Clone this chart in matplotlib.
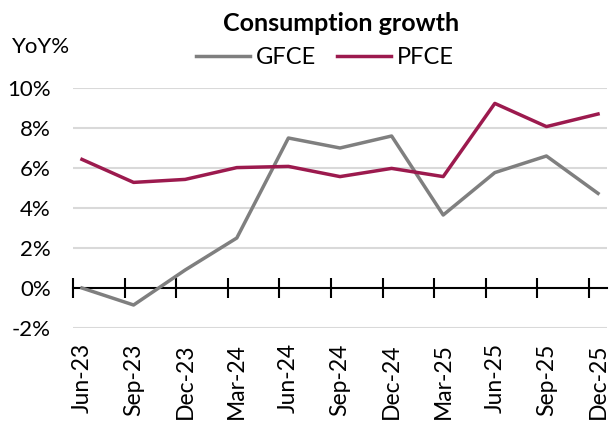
import matplotlib
matplotlib.use("Agg")
import matplotlib.pyplot as plt
from matplotlib.ticker import FixedLocator, FuncFormatter

plt.rcParams["font.family"] = ["Lato", "DejaVu Sans"]

quarters = ["Jun-23", "Sep-23", "Dec-23", "Mar-24", "Jun-24", "Sep-24",
            "Dec-24", "Mar-25", "Jun-25", "Sep-25", "Dec-25"]
gfce = [0.0, -0.85, 0.9, 2.5, 7.5, 7.0, 7.6, 3.65, 5.77, 6.6, 4.73]
pfce = [6.43, 5.28, 5.43, 6.02, 6.08, 5.57, 5.98, 5.57, 9.23, 8.07, 8.7]
yticks = [-2, 0, 2, 4, 6, 8, 10]

GREY = "#7f7f7f"
MAROON = "#9c1a4e"

fig = plt.figure(figsize=(6.09, 4.23), dpi=100)
ax = fig.add_axes([73 / 609, 95 / 423, 534 / 609, 240 / 423])

x = list(range(len(quarters)))
off = 0.174
ax.set_xlim(-off, len(quarters) - 1 + off)
ax.set_ylim(-2, 10)

for y in yticks:
    if y != 0:
        ax.axhline(y, color="#d9d9d9", lw=1.5, zorder=0)

ax.plot(x, gfce, color=GREY, lw=2.5, label="GFCE", zorder=3)
ax.plot(x, pfce, color=MAROON, lw=2.5, label="PFCE", zorder=3)

for s in ax.spines.values():
    s.set_visible(False)

ax.set_yticks(yticks)
ax.yaxis.set_major_formatter(FuncFormatter(lambda v, p: f"{v:.0f}%"))
ax.tick_params(axis="y", length=0, pad=16, labelsize=16)
ax.set_xticks(x)
ax.set_xticklabels(quarters, rotation=90, fontsize=16.5)
ax.tick_params(axis="x", length=0, pad=11)

# zero line with category-boundary tick marks
zax = ax.secondary_xaxis(2 / 12)
zax.spines["bottom"].set_color("black")
zax.spines["bottom"].set_linewidth(1.5)
zax.xaxis.set_major_locator(FixedLocator([i - off for i in x]))
zax.tick_params(axis="x", direction="inout", length=14, width=1.5, labelbottom=False)

fig.text(0.56, 1 - 31 / 423, "Consumption growth", ha="center", va="baseline",
         fontsize=18, fontweight="bold")
fig.text(12 / 609, 1 - 53 / 423, "YoY%", ha="left", va="baseline", fontsize=16)
fig.legend(loc="center", bbox_to_anchor=(325 / 609, 1 - 58 / 423), ncol=2, frameon=False,
           fontsize=17, handlelength=2.3, handletextpad=0.25, columnspacing=0.85,
           borderaxespad=0, borderpad=0)

fig.savefig("out.png", dpi=100)
